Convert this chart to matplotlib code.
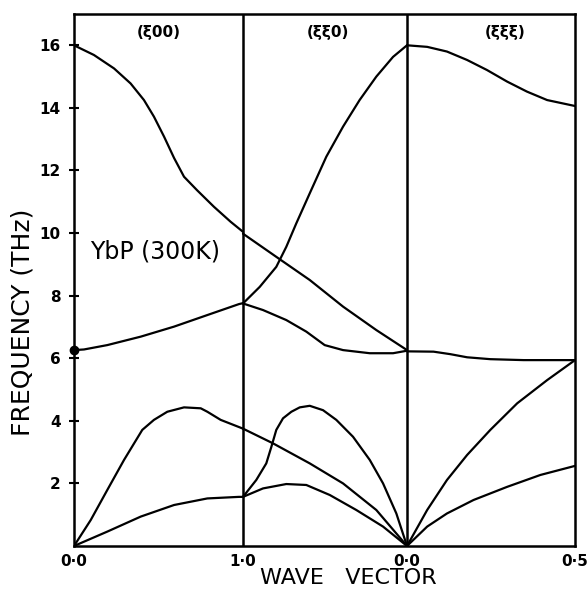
import matplotlib
matplotlib.use("Agg")
import matplotlib.pyplot as plt
import numpy as np

# ---------------- data (wave vector xi, frequency THz) ----------------
# Panel 1: (xi 0 0), xi from 0 to 1
p1_lo_xi = [0.0, 0.118, 0.237, 0.335, 0.414, 0.473, 0.533, 0.592, 0.651, 0.728, 0.828, 0.927, 1.0]
p1_lo_f = [16.0, 15.69, 15.26, 14.78, 14.25, 13.72, 13.08, 12.4, 11.8, 11.37, 10.84, 10.36, 10.04]
p1_to_xi = [0.0, 0.059, 0.197, 0.395, 0.592, 0.789, 0.976, 1.0]
p1_to_f = [6.26, 6.28, 6.42, 6.69, 7.01, 7.38, 7.73, 7.76]
p1_la_xi = [0.0, 0.099, 0.197, 0.296, 0.404, 0.473, 0.552, 0.651, 0.750, 0.789, 0.868, 0.986, 1.0]
p1_la_f = [0.0, 0.83, 1.79, 2.75, 3.71, 4.03, 4.29, 4.43, 4.40, 4.29, 4.03, 3.78, 3.75]
p1_ta_xi = [0.0, 0.197, 0.395, 0.592, 0.789, 0.976, 1.0]
p1_ta_f = [0.0, 0.46, 0.94, 1.31, 1.52, 1.57, 1.57]

# Panel 2: (xi xi 0), xi from 1 to 0
p2_lo_xi = [1.0, 0.898, 0.797, 0.736, 0.675, 0.593, 0.492, 0.390, 0.289, 0.187, 0.085, 0.0]
p2_lo_f = [7.75, 8.28, 8.92, 9.56, 10.31, 11.27, 12.44, 13.4, 14.25, 15.0, 15.63, 16.0]
p2_to2_xi = [1.0, 0.797, 0.593, 0.390, 0.187, 0.0]
p2_to2_f = [9.98, 9.24, 8.5, 7.65, 6.9, 6.26]
p2_to1_xi = [1.0, 0.878, 0.736, 0.614, 0.502, 0.390, 0.227, 0.085, 0.0]
p2_to1_f = [7.75, 7.54, 7.22, 6.85, 6.42, 6.26, 6.16, 6.16, 6.24]
p2_la_xi = [1.0, 0.919, 0.858, 0.827, 0.797, 0.756, 0.705, 0.654, 0.593, 0.512, 0.431,
            0.329, 0.227, 0.146, 0.065, 0.0]
p2_la_f = [1.57, 2.11, 2.64, 3.17, 3.71, 4.08, 4.29, 4.43, 4.48, 4.34, 4.03,
           3.49, 2.75, 2.0, 1.04, 0.0]
p2_ta2_xi = [1.0, 0.817, 0.593, 0.390, 0.187, 0.0]
p2_ta2_f = [3.75, 3.28, 2.64, 2.0, 1.15, 0.0]
p2_ta1_xi = [1.0, 0.878, 0.736, 0.614, 0.471, 0.309, 0.146, 0.0]
p2_ta1_f = [1.57, 1.84, 1.98, 1.95, 1.63, 1.15, 0.62, 0.0]

# Panel 3: (xi xi xi), xi from 0 to 0.5
p3_lo_xi = [0.0, 0.060, 0.119, 0.179, 0.238, 0.298, 0.357, 0.417, 0.5]
p3_lo_f = [16.0, 15.95, 15.8, 15.53, 15.21, 14.84, 14.52, 14.25, 14.06]
p3_to_xi = [0.0, 0.079, 0.129, 0.179, 0.248, 0.347, 0.5]
p3_to_f = [6.22, 6.21, 6.13, 6.03, 5.97, 5.94, 5.94]
p3_la_xi = [0.0, 0.060, 0.119, 0.179, 0.248, 0.328, 0.417, 0.5]
p3_la_f = [0.0, 1.15, 2.11, 2.91, 3.71, 4.56, 5.3, 5.94]
p3_ta_xi = [0.0, 0.060, 0.119, 0.198, 0.298, 0.397, 0.5]
p3_ta_f = [0.0, 0.62, 1.04, 1.47, 1.89, 2.27, 2.56]

gamma_dot_f = 6.26

xtick_labels = ["0·0", "1·0", "0·0", "0·5"]
ytick_vals = [2, 4, 6, 8, 10, 12, 14, 16]
panel_labels = ["(ξ00)", "(ξξ0)", "(ξξξ)"]

# ---------------- layout ----------------
W, H = 588, 590
fig = plt.figure(figsize=(W / 100, H / 100), dpi=100)
ax_l, ax_r, ax_t, ax_b = 74, 575, 14, 546
ax = fig.add_axes([ax_l / W, 1 - ax_b / H, (ax_r - ax_l) / W, (ax_b - ax_t) / H])

b1 = 1.0
b2 = 1.0 + 164 / 169
b3 = b2 + 168 / 169

def x1(xi):
    return np.asarray(xi) * b1

def x2(xi):
    return b1 + (1 - np.asarray(xi)) * (b2 - b1)

def x3(xi):
    return b2 + np.asarray(xi) / 0.5 * (b3 - b2)

lw = 1.6
kw = dict(color="black", lw=lw, solid_joinstyle="round", solid_capstyle="round")
for xs, fs in [(p1_lo_xi, p1_lo_f), (p1_to_xi, p1_to_f), (p1_la_xi, p1_la_f), (p1_ta_xi, p1_ta_f)]:
    ax.plot(x1(xs), fs, **kw)
for xs, fs in [(p2_lo_xi, p2_lo_f), (p2_to2_xi, p2_to2_f), (p2_to1_xi, p2_to1_f),
               (p2_la_xi, p2_la_f), (p2_ta2_xi, p2_ta2_f), (p2_ta1_xi, p2_ta1_f)]:
    ax.plot(x2(xs), fs, **kw)
for xs, fs in [(p3_lo_xi, p3_lo_f), (p3_to_xi, p3_to_f), (p3_la_xi, p3_la_f), (p3_ta_xi, p3_ta_f)]:
    ax.plot(x3(xs), fs, **kw)

ax.plot([0], [gamma_dot_f], "o", color="black", ms=6, clip_on=False, zorder=5)

for bx in [b1, b2]:
    ax.axvline(bx, color="black", lw=1.8)

ax.set_xlim(0, b3)
ax.set_ylim(0, 17)
for s in ax.spines.values():
    s.set_linewidth(1.8)

ax.set_yticks(ytick_vals)
ax.set_yticklabels([str(v) for v in ytick_vals], fontsize=11, fontweight="bold")
ax.tick_params(axis="y", direction="inout", length=7, width=1.5, pad=6)
ax.set_xticks([0, b1, b2, b3])
ax.set_xticklabels(xtick_labels, fontsize=11, fontweight="bold")
ax.tick_params(axis="x", length=0, pad=6)

fig.text(23 / W, 1 - 322 / H, "FREQUENCY (THz)", fontsize=18, rotation=90,
         ha="center", va="center")
fig.text(260 / W, 1 - 578 / H, "WAVE   VECTOR", fontsize=16, ha="left", va="center")

px = [159, 328, 505]
for lab, x in zip(panel_labels, px):
    fig.text(x / W, 1 - 33 / H, lab, fontsize=11, fontweight="bold", ha="center", va="center")

fig.text(90 / W, 1 - 252 / H, "YbP (300K)", fontsize=17, ha="left", va="center")

fig.savefig("out.png", dpi=100)
